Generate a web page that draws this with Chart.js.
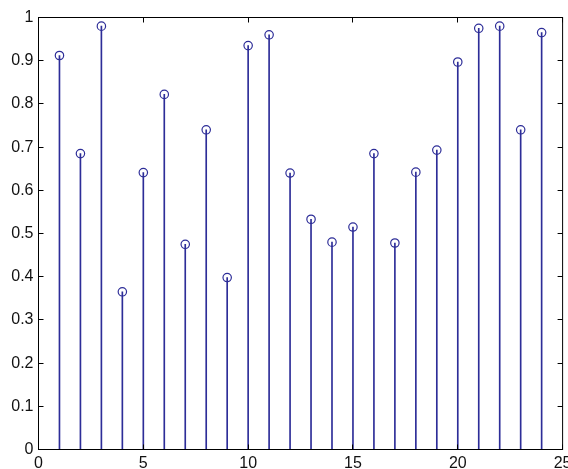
<!DOCTYPE html>
<html>
<head>
<meta charset="utf-8">
<script src="https://cdn.jsdelivr.net/npm/chart.js@4"></script>
<style>
html,body{margin:0;padding:0;background:#fff;}
#wrap{width:568px;height:469px;}
</style>
</head>
<body>
<div id="wrap"><canvas id="c" width="568" height="469"></canvas></div>
<script>
const xValues = [1,2,3,4,5,6,7,8,9,10,11,12,13,14,15,16,17,18,19,20,21,22,23,24];
const yValues = [0.912,0.685,0.980,0.365,0.641,0.822,0.475,0.740,0.398,0.935,0.960,0.640,0.533,0.480,0.515,0.685,0.478,0.642,0.693,0.897,0.975,0.980,0.740,0.965];
const xTicks = [0,5,10,15,20,25];
const yTicks = [0,0.1,0.2,0.3,0.4,0.5,0.6,0.7,0.8,0.9,1];

const stemColor = '#2d2d98';
const pts = xValues.map((x,i)=>({x:x,y:yValues[i]}));

const boxPlugin = {
  id:'box',
  afterDatasetsDraw(chart){
    const ctx = chart.ctx, a = chart.chartArea;
    const xs = chart.scales.x, ys = chart.scales.y;
    ctx.save();
    ctx.strokeStyle = '#000';
    ctx.lineWidth = 1;
    ctx.strokeRect(a.left, a.top, a.right-a.left, a.bottom-a.top);
    const L = 5;
    ctx.beginPath();
    xTicks.forEach(v=>{
      const px = Math.round(xs.getPixelForValue(v)-0.5)+0.5;
      ctx.moveTo(px, a.bottom); ctx.lineTo(px, a.bottom-L);
      ctx.moveTo(px, a.top); ctx.lineTo(px, a.top+L);
    });
    yTicks.forEach(v=>{
      const py = Math.round(ys.getPixelForValue(v)-0.5)+0.5;
      ctx.moveTo(a.left, py); ctx.lineTo(a.left+L, py);
      ctx.moveTo(a.right, py); ctx.lineTo(a.right-L, py);
    });
    ctx.stroke();
    ctx.restore();
  }
};

new Chart(document.getElementById('c'), {
  type:'scatter',
  data:{
    datasets:[
      {type:'bar', data:pts, backgroundColor:stemColor, borderWidth:0, barThickness:1, order:2},
      {type:'scatter', data:pts, pointStyle:'circle', pointRadius:4.2, pointBorderWidth:1.2,
       borderColor:stemColor, backgroundColor:'rgba(0,0,0,0)', order:1}
    ]
  },
  options:{
    responsive:false,
    animation:false,
    devicePixelRatio:1,
    layout:{padding:{top:17.5,right:4.5,left:0,bottom:0}},
    plugins:{legend:{display:false},tooltip:{enabled:false}},
    scales:{
      x:{
        type:'linear', min:0, max:25, offset:false,
        grid:{display:false, drawTicks:false},
        border:{display:false},
        afterBuildTicks(s){ s.ticks = xTicks.map(v=>({value:v})); },
        afterFit(s){ s.height = 19.5; s.paddingLeft = 0; s.paddingRight = 0; },
        ticks:{padding:4, color:'#111', font:{family:'Liberation Sans', size:16}, maxRotation:0, autoSkip:false}
      },
      y:{
        type:'linear', min:0, max:1,
        grid:{display:false, drawTicks:false},
        border:{display:false},
        afterBuildTicks(s){ s.ticks = yTicks.map(v=>({value:v})); },
        afterFit(s){ s.width = 38.5; s.paddingTop = 0; s.paddingBottom = 0; },
        ticks:{padding:5, color:'#111', font:{family:'Liberation Sans', size:16}, autoSkip:false,
          callback:(v)=>String(Math.round(v*10)/10)}
      }
    }
  },
  plugins:[boxPlugin]
});
</script>
</body>
</html>
